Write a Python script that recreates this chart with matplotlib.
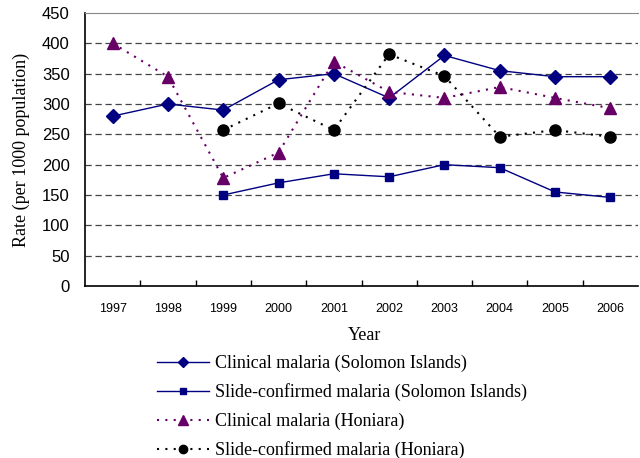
import matplotlib
matplotlib.use("Agg")
import matplotlib.pyplot as plt
import numpy as np

years = ["1997", "1998", "1999", "2000", "2001", "2002", "2003", "2004", "2005", "2006"]
clinical_si = [280, 300, 290, 340, 350, 310, 380, 355, 345, 345]
slide_si = [None, None, 150, 170, 185, 180, 200, 195, 155, 146]
clinical_hon = [400, 345, 178, 220, 370, 320, 310, 328, 310, 293]
slide_hon = [None, None, 257, 301, 257, 382, 346, 246, 257, 246]
yticks = [0, 50, 100, 150, 200, 250, 300, 350, 400, 450]

def arr(v):
    return np.array([np.nan if x is None else x for x in v], dtype=float)

fig = plt.figure(figsize=(6.4, 4.58), dpi=100)
ax = fig.add_axes([85/640, 1-286/458, 553/640, (286-13)/458])
x = np.arange(len(years))

for yv in yticks[1:-1]:
    ax.axhline(yv, color="#444444", lw=0.9, ls=(0, (5, 3)), zorder=0)

serif = "Liberation Serif"
l1, = ax.plot(x, arr(clinical_si), color="#000080", lw=1.0, marker="D", ms=7,
              label="Clinical malaria (Solomon Islands)")
l2, = ax.plot(x, arr(slide_si), color="#000080", lw=1.0, marker="s", ms=6,
              label="Slide-confirmed malaria (Solomon Islands)")
l3, = ax.plot(x, arr(clinical_hon), color="#660066", lw=1.5, ls=(0, (1, 3)), marker="^", ms=9,
              label="Clinical malaria (Honiara)")
l4, = ax.plot(x, arr(slide_hon), color="black", lw=1.5, ls=(0, (1, 3)), marker="o", ms=8,
              label="Slide-confirmed malaria (Honiara)")

ax.set_xlim(-0.5, len(years) - 0.5)
ax.set_ylim(0, 450)
ax.set_yticks(yticks)
ax.set_yticklabels([str(t) for t in yticks], fontsize=12, family="Liberation Sans")
ax.set_xticks(x)
ax.set_xticklabels(years, fontsize=9, family="Liberation Sans")
ax.set_xticks(np.arange(0.5, len(years) - 0.5, 1), minor=True)
ax.tick_params(axis="x", which="major", length=0, pad=12)
ax.tick_params(axis="x", which="minor", length=4, direction="in", width=1)
ax.tick_params(axis="y", length=0, pad=11)
ax.spines["right"].set_visible(False)
ax.spines["top"].set_color("#888888")
ax.spines["left"].set_linewidth(1.2)
ax.spines["bottom"].set_linewidth(1.2)

ax.set_xlabel("Year", fontsize=13, family=serif)
ax.set_ylabel("Rate (per 1000 population)", fontsize=13, family=serif)
ax.xaxis.set_label_coords((365 - 85) / 553, (286 - 335) / 273)
ax.yaxis.set_label_coords((21 - 85) / 553, 0.5)
ax.yaxis.label.set_va("center")
ax.xaxis.label.set_va("center")

fig.legend(handles=[l1, l2, l3, l4], loc="center left", bbox_to_anchor=(0.245, 1 - 407/458),
           frameon=False, prop={"family": serif, "size": 13}, handlelength=2.9,
           labelspacing=0.63, handletextpad=0.3, borderaxespad=0, borderpad=0,
           markerscale=0.75)

fig.savefig("out.png", dpi=100)
